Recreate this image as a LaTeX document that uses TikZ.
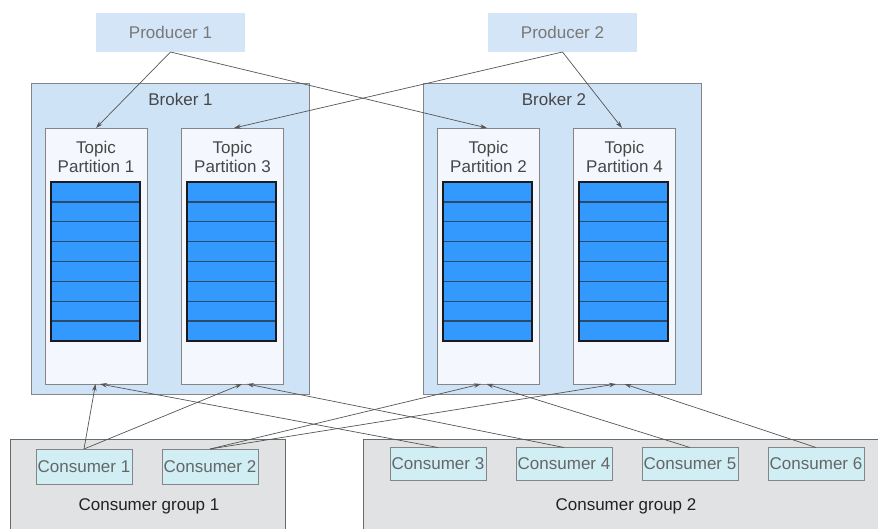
\documentclass[tikz,border=0pt]{standalone}
\usepackage{fontspec}
\setmainfont{Liberation Sans}
\usetikzlibrary{arrows.meta}
\definecolor{prodfill}{HTML}{D4E5F7}
\definecolor{brokfill}{HTML}{CFE3F7}
\definecolor{partfill}{HTML}{F4F8FE}
\definecolor{stackfill}{HTML}{3399FF}
\definecolor{rowline}{HTML}{2A4B6B}
\definecolor{stackedge}{HTML}{1A1A1A}
\definecolor{consfill}{HTML}{D0EEF3}
\definecolor{grpfill}{HTML}{E0E2E3}
\definecolor{grpedge}{HTML}{6A6A6A}
\definecolor{edgegray}{HTML}{858585}
\definecolor{arrowgray}{HTML}{555555}
\definecolor{txtlight}{HTML}{787878}
\definecolor{txtmid}{HTML}{474747}
\definecolor{txtcons}{HTML}{666666}
\definecolor{txtdark}{HTML}{222222}
\begin{document}
\begin{tikzpicture}[x=1pt,y=-1pt,
  font=\fontsize{17}{19}\selectfont,
  box/.style={rectangle, inner sep=0pt, outer sep=0pt, anchor=north west},
  producer/.style={box, fill=prodfill, text=txtlight, minimum width=149, minimum height=39},
  broker/.style={box, fill=brokfill, draw=edgegray, line width=0.8pt, minimum width=278, minimum height=311},
  partition/.style={box, fill=partfill, draw=edgegray, line width=0.8pt, minimum width=102, minimum height=256},
  consumer/.style={box, fill=consfill, draw=edgegray, line width=0.8pt, text=txtcons, minimum width=96, minimum height=35},
  group/.style={box, fill=grpfill, draw=grpedge, line width=0.8pt},
  lbl/.style={inner sep=0pt, align=center},
  flow/.style={draw=arrowgray, line width=0.7pt, -{Stealth[length=7pt,width=4.5pt]}}
]
\useasboundingbox (0,0) rectangle (878,529);
\clip (0,0) rectangle (878,529);

% groups
\node[group, minimum width=275, minimum height=110] (g1) at (10,439) {};
\node[group, minimum width=520, minimum height=110] (g2) at (363,439) {};
\node[lbl, text=txtdark] (g1t) at (149,506) {Consumer group 1};
\node[lbl, text=txtdark] (g2t) at (626,506) {Consumer group 2};

% producers
\node[producer] (p1) at (96,13) {Producer 1};
\node[producer] (p2) at (488,13) {Producer 2};

% brokers
\node[broker] (b1) at (31,83) {};
\node[broker] (b2) at (423,83) {};
\node[lbl, text=txtmid] (b1t) at (180.5,99) {Broker 1};
\node[lbl, text=txtmid] (b2t) at (554,99) {Broker 2};

% partitions
\node[partition] (tp1) at (45,128) {};
\node[partition] (tp3) at (181,128) {};
\node[partition] (tp2) at (437,128) {};
\node[partition] (tp4) at (573,128) {};
\node[lbl, text=txtmid] (tp1t) at (96,156.5) {Topic\\Partition 1};
\node[lbl, text=txtmid] (tp3t) at (232.5,156.5) {Topic\\Partition 3};
\node[lbl, text=txtmid] (tp2t) at (488.5,156.5) {Topic\\Partition 2};
\node[lbl, text=txtmid] (tp4t) at (624.5,156.5) {Topic\\Partition 4};

% stacks
\foreach \n in {tp1,tp2,tp3,tp4} {
  \path (\n.north) ++(-0.5,54) coordinate (\n s);
  \fill[stackfill] ([xshift=-44.5pt]\n s) rectangle ++(89,159);
  \foreach \i in {1,...,7} {
    \draw[rowline, line width=1.4pt] ([xshift=-44.5pt]\n s) ++(0,\i*19.875) -- ++(89,0);
  }
  \draw[stackedge, line width=1.4pt] ([xshift=-44.5pt]\n s) rectangle ++(89,159);
}

% consumers
\node[consumer] (c1) at (36,449) {Consumer 1};
\node[consumer] (c2) at (162,449) {Consumer 2};
\node[consumer, minimum height=33] (c3) at (390,447.5) {Consumer 3};
\node[consumer, minimum height=33] (c4) at (516,447.5) {Consumer 4};
\node[consumer, minimum height=33] (c5) at (642,447.5) {Consumer 5};
\node[consumer, minimum height=33] (c6) at (768,447.5) {Consumer 6};

% producer arrows
\draw[flow] (p1.south) -- (tp1.north);
\draw[flow] (p1.south) -- ([xshift=-1pt]tp2.north);
\draw[flow] (p2.south) -- ([xshift=2pt]tp3.north);
\draw[flow] (p2.south) -- ([xshift=-2pt]tp4.north);

% consumer arrows
\draw[flow] (c1.north) -- ([xshift=-0.5pt]tp1.south);
\draw[flow] (c1.north) -- ([xshift=10pt]tp3.south);
\draw[flow] (c2.north) -- ([xshift=-7pt]tp2.south);
\draw[flow] (c2.north) -- ([xshift=-8pt]tp4.south);
\draw[flow] (c3.north) -- ([xshift=4pt]tp1.south);
\draw[flow] (c4.north) -- ([xshift=15pt]tp3.south);
\draw[flow] (c5.north) -- ([xshift=-1.5pt]tp2.south);
\draw[flow] (c6.north) -- ([xshift=0.5pt]tp4.south);
\end{tikzpicture}
\end{document}
